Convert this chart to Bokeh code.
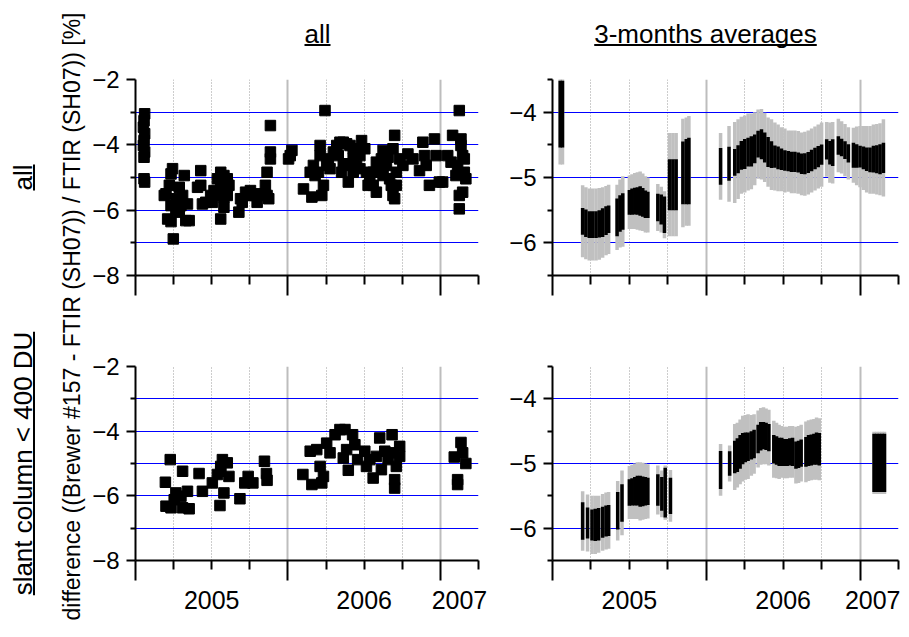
import numpy as np
from bokeh.plotting import figure
from bokeh.models import (Range1d, FixedTicker, LinearAxis, CustomJSTickFormatter,
                          Grid, ColumnDataSource)
from bokeh.layouts import row, column
from bokeh.embed import file_html
from bokeh.resources import INLINE
from bokeh.core.properties import value

FONT = "Liberation Sans"

# ---------------- axes / labels ----------------
X_RANGE = (2005.0, 2007.25)
YEAR_TICKS = [2005.0, 2006.0, 2007.0]
QUARTER_TICKS = [2005.25, 2005.5, 2005.75, 2006.25, 2006.5, 2006.75, 2007.25]
YEAR_LABEL_POS = [2005.5, 2006.5, 2007.125]
YEAR_LABELS = ["2005", "2006", "2007"]

ALL_YRANGE = (-8.0, -2.0)
ALL_YMAJOR = [-8, -6, -4, -2]
ALL_YMINOR = [-7, -5, -3]
ALL_HLINES = [-7, -6, -5, -4, -3]

AVG_YRANGE = (-6.5, -3.5)
AVG_YMAJOR = [-6, -5, -4]
AVG_YMINOR = [-6.5, -5.5, -4.5, -3.5]
AVG_HLINES = [-6, -5, -4]

COL_TITLES = ["all", "3-months averages"]
ROW_TITLES = ["all", "slant column < 400 DU"]
Y_TITLE = "difference ((Brewer #157 - FTIR (SH07)) / FTIR (SH07)) [%]"

# ---------------- top-left: all data ----------------
TL_YEAR = (
    [2005.060, 2005.056, 2005.052, 2005.060, 2005.056, 2005.052, 2005.060, 2005.056, 2005.056, 2005.060]
    + [2005.243, 2005.233, 2005.320, 2005.222, 2005.200, 2005.189, 2005.287, 2005.309, 2005.265, 2005.341,
       2005.298, 2005.233, 2005.211, 2005.233, 2005.352, 2005.330, 2005.248, 2005.287, 2005.265]
    + [2005.428, 2005.428, 2005.407, 2005.439, 2005.461, 2005.493, 2005.515, 2005.537, 2005.559, 2005.580,
       2005.602, 2005.613, 2005.559, 2005.537, 2005.580, 2005.602, 2005.559, 2005.580, 2005.504]
    + [2005.678, 2005.689, 2005.722, 2005.754, 2005.776, 2005.798, 2005.743, 2005.700, 2005.863, 2005.852,
       2005.863, 2005.874, 2005.885, 2005.885, 2005.885, 2005.798]
    + [2006.015, 2006.026, 2006.004]
    + [2006.102, 2006.157, 2006.146, 2006.167, 2006.178, 2006.200, 2006.211, 2006.222, 2006.233, 2006.243,
       2006.254, 2006.265, 2006.298, 2006.320, 2006.341, 2006.363, 2006.385, 2006.407, 2006.428, 2006.450,
       2006.483, 2006.504, 2006.472, 2006.428, 2006.407, 2006.363, 2006.352, 2006.396, 2006.428, 2006.472,
       2006.515, 2006.537, 2006.559, 2006.580, 2006.526, 2006.602, 2006.613, 2006.624, 2006.646, 2006.667,
       2006.678, 2006.689, 2006.700, 2006.700, 2006.711, 2006.733, 2006.754, 2006.689, 2006.211, 2006.276,
       2006.330, 2006.450, 2006.559, 2006.624, 2006.657, 2006.580, 2006.711]
    + [2006.787, 2006.820, 2006.863, 2006.885, 2006.896, 2006.907, 2006.928, 2006.961, 2006.972, 2006.993,
       2007.015, 2007.048, 2007.070, 2007.080, 2007.102, 2007.113, 2007.124, 2007.135, 2007.146, 2007.157,
       2007.124, 2007.124, 2007.146, 2007.167, 2007.157, 2007.135]
)
TL_DIFF = (
    [-3.05, -3.26, -3.46, -3.66, -3.87, -4.02, -4.22, -4.38, -5.04, -5.14]
    + [-4.73, -4.89, -4.94, -5.24, -5.50, -5.55, -5.30, -5.55, -5.65, -5.81,
       -5.86, -5.86, -6.27, -6.35, -6.32, -6.32, -6.88, -6.06, -6.01]
    + [-4.79, -5.24, -5.30, -5.81, -5.76, -5.55, -5.40, -5.04, -4.84, -4.94,
       -5.04, -5.24, -5.30, -5.55, -5.60, -5.55, -6.27, -5.91, -5.76]
    + [-6.06, -5.65, -5.45, -5.40, -5.55, -5.76, -5.55, -5.76, -4.84, -5.24,
       -5.55, -5.65, -3.41, -4.22, -4.43, -5.50]
    + [-4.33, -4.17, -4.43]
    + [-5.35, -5.60, -4.84, -4.63, -4.94, -4.84, -4.02, -5.55, -5.24, -2.95,
       -4.63, -4.43, -4.22, -4.02, -3.92, -3.92, -3.97, -4.02, -4.12, -4.22,
       -3.87, -4.12, -4.33, -4.43, -4.63, -4.58, -4.84, -5.14, -4.84, -4.73,
       -4.84, -5.04, -5.24, -5.45, -5.24, -4.73, -4.43, -4.17, -4.63, -5.04,
       -5.24, -5.55, -5.65, -3.71, -4.84, -4.43, -4.63, -4.12, -4.33, -4.73,
       -4.33, -4.63, -4.84, -4.94, -4.38, -4.53, -5.24]
    + [-4.28, -4.43, -4.79, -3.92, -4.33, -4.63, -5.24, -3.82, -4.33, -5.14,
       -5.14, -4.33, -4.53, -3.71, -4.94, -4.63, -2.95, -4.02, -4.33, -4.43,
       -5.55, -5.96, -5.45, -5.04, -4.84, -3.82]
)

# ---------------- bottom-left: slant column < 400 DU ----------------
BL_YEAR = (
    [2005.228, 2005.196, 2005.309, 2005.417, 2005.200, 2005.233, 2005.265, 2005.298, 2005.254, 2005.341,
     2005.352, 2005.309, 2005.439, 2005.504, 2005.537, 2005.559, 2005.570, 2005.602, 2005.613, 2005.580,
     2005.554, 2005.559, 2005.685, 2005.717, 2005.739, 2005.770, 2005.846, 2005.859, 2005.863]
    + [2006.098, 2006.157, 2006.146, 2006.189, 2006.211, 2006.222, 2006.233, 2006.254, 2006.276, 2006.309,
       2006.341, 2006.374, 2006.363, 2006.385, 2006.396, 2006.424, 2006.439, 2006.457, 2006.504, 2006.515,
       2006.537, 2006.559, 2006.580, 2006.602, 2006.613, 2006.635, 2006.657, 2006.683, 2006.689, 2006.700,
       2006.700, 2006.711, 2006.733, 2006.733]
    + [2007.091, 2007.135, 2007.146, 2007.167, 2007.113, 2007.113]
)
BL_DIFF = (
    [-4.88, -5.58, -5.24, -5.31, -6.32, -6.37, -5.91, -6.01, -6.12, -5.86,
     -6.40, -6.37, -5.86, -5.60, -5.34, -5.09, -4.88, -4.98, -5.40, -5.91,
     -6.30, -5.24, -6.09, -5.60, -5.40, -5.60, -4.93, -5.31, -5.52]
    + [-5.34, -5.65, -4.62, -4.57, -5.09, -5.60, -5.40, -4.37, -4.67, -4.11,
       -3.95, -3.95, -4.83, -4.57, -5.21, -4.11, -4.42, -4.88, -4.62, -5.09,
       -4.88, -5.45, -4.78, -4.21, -5.19, -4.62, -4.88, -4.11, -4.67, -5.50,
       -5.76, -5.09, -4.47, -4.78]
    + [-4.80, -4.35, -4.67, -5.00, -5.50, -5.65]
)

# ---------------- top-right: 3-month averages (all) ----------------
TR_YEAR = (
    [2005.050, 2005.065]
    + [2005.196, 2005.217, 2005.239, 2005.261, 2005.283, 2005.304, 2005.326, 2005.348, 2005.365]
    + [2005.420, 2005.439, 2005.457]
    + [2005.500, 2005.517, 2005.535, 2005.552, 2005.570, 2005.587, 2005.604, 2005.620]
    + [2005.685, 2005.707, 2005.728, 2005.761, 2005.783, 2005.804]
    + [2005.848, 2005.870, 2005.887]
    + [2006.093, 2006.148, 2006.185, 2006.207, 2006.228, 2006.250, 2006.272, 2006.293, 2006.315, 2006.337,
       2006.359, 2006.380, 2006.402, 2006.424, 2006.446, 2006.467, 2006.489, 2006.511, 2006.533, 2006.554,
       2006.576, 2006.598, 2006.620, 2006.641, 2006.663, 2006.685, 2006.707, 2006.728, 2006.750, 2006.783,
       2006.804, 2006.822, 2006.859, 2006.880, 2006.902, 2006.924, 2006.957, 2006.978, 2007.000, 2007.022,
       2007.043, 2007.065, 2007.087, 2007.109, 2007.130, 2007.152]
)
TR_MEAN = (
    [-4.03, -4.03]
    + [-5.67, -5.70, -5.72, -5.72, -5.72, -5.71, -5.69, -5.66, -5.64]
    + [-5.61, -5.55, -5.52]
    + [-5.38, -5.37, -5.36, -5.36, -5.36, -5.38, -5.41, -5.42]
    + [-5.46, -5.49, -5.57, -5.11, -5.11, -5.11]
    + [-4.93, -4.91, -4.90]
    + [-4.83, -4.79, -4.77, -4.72, -4.66, -4.64, -4.61, -4.60, -4.56, -4.49,
       -4.49, -4.54, -4.61, -4.65, -4.68, -4.70, -4.72, -4.74, -4.75, -4.76,
       -4.76, -4.77, -4.79, -4.79, -4.77, -4.74, -4.71, -4.68, -4.65, -4.57,
       -4.62, -4.62, -4.51, -4.54, -4.58, -4.63, -4.66, -4.67, -4.68, -4.70,
       -4.72, -4.73, -4.72, -4.72, -4.72, -4.70]
)
TR_INNER = (
    [0.51, 0.51]
    + [0.205, 0.21, 0.205, 0.205, 0.205, 0.21, 0.22, 0.22, 0.21]
    + [0.29, 0.28, 0.28]
    + [0.19, 0.20, 0.205, 0.21, 0.225, 0.22, 0.21, 0.20]
    + [0.21, 0.23, 0.28, 0.39, 0.39, 0.39]
    + [0.48, 0.50, 0.51]
    + [0.28, 0.26, 0.205, 0.215, 0.22, 0.23, 0.22, 0.23, 0.22, 0.205,
       0.23, 0.23, 0.23, 0.205, 0.17, 0.175, 0.165, 0.156, 0.154, 0.156,
       0.154, 0.154, 0.156, 0.16, 0.16, 0.164, 0.164, 0.164, 0.156, 0.154,
       0.18, 0.205, 0.14, 0.133, 0.136, 0.14, 0.19, 0.18, 0.167, 0.174,
       0.18, 0.19, 0.205, 0.215, 0.23, 0.23]
)
TR_OUTER = (
    [0.77, 0.77]
    + [0.55, 0.55, 0.55, 0.55, 0.55, 0.55, 0.54, 0.53, 0.53]
    + [0.50, 0.52, 0.54]
    + [0.41, 0.42, 0.43, 0.44, 0.45, 0.44, 0.43, 0.42]
    + [0.36, 0.35, 0.36, 0.79, 0.79, 0.79]
    + [0.83, 0.83, 0.84]
    + [0.51, 0.58, 0.62, 0.61, 0.59, 0.59, 0.59, 0.58, 0.56, 0.53,
       0.54, 0.53, 0.53, 0.54, 0.52, 0.51, 0.49, 0.49, 0.47, 0.48,
       0.48, 0.48, 0.48, 0.49, 0.49, 0.49, 0.49, 0.49, 0.49, 0.42,
       0.46, 0.47, 0.41, 0.40, 0.40, 0.40, 0.42, 0.45, 0.47, 0.49,
       0.51, 0.52, 0.53, 0.54, 0.55, 0.59]
)

# ---------------- bottom-right: 3-month averages (slant column < 400 DU) ----------------
BR_YEAR = (
    [2005.196, 2005.228, 2005.257, 2005.278, 2005.300, 2005.326, 2005.348, 2005.365]
    + [2005.424, 2005.452]
    + [2005.500, 2005.517, 2005.535, 2005.552, 2005.570, 2005.587, 2005.604, 2005.620]
    + [2005.685, 2005.711, 2005.733, 2005.767]
    + [2006.093, 2006.152, 2006.185, 2006.202, 2006.220, 2006.237, 2006.254, 2006.272, 2006.293, 2006.311,
       2006.337, 2006.354, 2006.372, 2006.389, 2006.407, 2006.439, 2006.457, 2006.474, 2006.491, 2006.509,
       2006.526, 2006.543, 2006.561, 2006.583, 2006.600, 2006.617, 2006.648, 2006.665, 2006.683, 2006.700,
       2006.717, 2006.735]
    + [2007.091, 2007.109, 2007.126, 2007.143, 2007.159]
)
BR_MEAN = (
    [-5.89, -5.92, -5.95, -5.95, -5.94, -5.91, -5.89, -5.88]
    + [-5.73, -5.61]
    + [-5.45, -5.44, -5.43, -5.42, -5.43, -5.43, -5.43, -5.43]
    + [-5.41, -5.47, -5.45, -5.50]
    + [-5.10, -5.00, -4.90, -4.87, -4.82, -4.77, -4.75, -4.74, -4.72, -4.70,
       -4.62, -4.58, -4.57, -4.58, -4.60, -4.78, -4.80, -4.82, -4.82, -4.83,
       -4.83, -4.82, -4.82, -4.87, -4.86, -4.84, -4.82, -4.80, -4.79, -4.78,
       -4.77, -4.78]
    + [-4.99, -4.99, -4.99, -4.99, -4.99]
)
BR_INNER = (
    [0.29, 0.24, 0.24, 0.25, 0.25, 0.24, 0.24, 0.24]
    + [0.29, 0.29]
    + [0.205, 0.21, 0.22, 0.23, 0.24, 0.23, 0.22, 0.21]
    + [0.245, 0.26, 0.385, 0.28]
    + [0.295, 0.19, 0.25, 0.26, 0.26, 0.24, 0.23, 0.22, 0.22, 0.22,
       0.22, 0.22, 0.21, 0.21, 0.21, 0.22, 0.22, 0.22, 0.22, 0.21,
       0.21, 0.21, 0.22, 0.21, 0.21, 0.21, 0.23, 0.24, 0.24, 0.24,
       0.25, 0.25]
    + [0.45, 0.45, 0.45, 0.45, 0.45]
)
BR_OUTER = (
    [0.46, 0.44, 0.45, 0.45, 0.44, 0.44, 0.44, 0.44]
    + [0.46, 0.50]
    + [0.41, 0.42, 0.43, 0.44, 0.45, 0.44, 0.43, 0.42]
    + [0.38, 0.36, 0.42, 0.40]
    + [0.40, 0.28, 0.51, 0.50, 0.50, 0.51, 0.50, 0.50, 0.47, 0.46,
       0.44, 0.44, 0.44, 0.43, 0.43, 0.44, 0.43, 0.42, 0.40, 0.40,
       0.40, 0.40, 0.40, 0.44, 0.44, 0.44, 0.47, 0.47, 0.47, 0.47,
       0.48, 0.48]
    + [0.48, 0.48, 0.48, 0.48, 0.48]
)

assert len(TL_YEAR) == len(TL_DIFF)
assert len(BL_YEAR) == len(BL_DIFF)
assert len(TR_YEAR) == len(TR_MEAN) == len(TR_INNER) == len(TR_OUTER)
assert len(BR_YEAR) == len(BR_MEAN) == len(BR_INNER) == len(BR_OUTER)

# ---------------- styling ----------------
BAR_GRAY = "#c0c0c0"
BLUE = "#0000ff"
TICK_FONT_Y = "24px"
TICK_FONT_X = "25px"

BLANK = CustomJSTickFormatter(code="return '';")


def make_panel(width, height, mb_left, mb_right, mb_top, mb_bottom,
               yrange, ymajor, yminor, hlines, xlabels):
    p = figure(width=width, height=height,
               x_range=Range1d(*X_RANGE), y_range=Range1d(*yrange),
               x_axis_type=None, y_axis_type=None,
               output_backend="svg", toolbar_location=None,
               min_border_left=mb_left, min_border_right=mb_right,
               min_border_top=mb_top, min_border_bottom=mb_bottom)
    p.outline_line_color = None
    p.background_fill_color = "white"
    p.border_fill_color = "white"

    # vertical guides: years solid grey, quarters dotted
    p.add_layout(Grid(dimension=0,
                      ticker=FixedTicker(ticks=YEAR_TICKS[1:], minor_ticks=QUARTER_TICKS),
                      grid_line_color="#bdbdbd", grid_line_width=2,
                      minor_grid_line_color="#9a9a9a", minor_grid_line_width=1,
                      minor_grid_line_dash="1 2"))
    # horizontal blue reference lines
    p.add_layout(Grid(dimension=1, ticker=FixedTicker(ticks=hlines),
                      grid_line_color=BLUE, grid_line_width=1.2))

    yaxis = LinearAxis(ticker=FixedTicker(ticks=ymajor, minor_ticks=yminor),
                       axis_line_width=2, major_tick_line_width=2, minor_tick_line_width=2,
                       major_tick_out=9, major_tick_in=0, minor_tick_out=5, minor_tick_in=0,
                       major_label_text_font=FONT, major_label_text_font_size=TICK_FONT_Y,
                       major_label_text_color="black", major_label_standoff=7)
    p.add_layout(yaxis, "left")

    xaxis = LinearAxis(ticker=FixedTicker(ticks=YEAR_TICKS, minor_ticks=QUARTER_TICKS),
                       formatter=BLANK,
                       axis_line_width=2, major_tick_line_width=2, minor_tick_line_width=2,
                       major_tick_out=20, major_tick_in=0, minor_tick_out=9, minor_tick_in=0,
                       major_label_text_font_size="1px", major_label_standoff=0)
    p.add_layout(xaxis, "below")

    if xlabels:
        lab_axis = LinearAxis(
            ticker=FixedTicker(ticks=YEAR_LABEL_POS, minor_ticks=[]),
            formatter=CustomJSTickFormatter(
                args=dict(pos=YEAR_LABEL_POS, lab=YEAR_LABELS),
                code="const i = pos.findIndex(v => Math.abs(v - tick) < 1e-6); return i >= 0 ? lab[i] : '';"),
            axis_line_color=None, major_tick_line_color=None, minor_tick_line_color=None,
            major_tick_out=0, major_tick_in=0, minor_tick_out=0, minor_tick_in=0,
            major_label_text_font=FONT, major_label_text_font_size=TICK_FONT_X,
            major_label_text_color="black", major_label_standoff=10)
        p.add_layout(lab_axis, "below")
    return p


def scatter_panel(p, years, diffs):
    src = ColumnDataSource(dict(x=years, y=diffs))
    p.scatter("x", "y", source=src, marker="square", size=10.5,
              fill_color="black", line_color="black")


def bars_panel(p, years, mean, inner, outer):
    m = np.array(mean)
    src = ColumnDataSource(dict(x=years,
                                olo=m - np.array(outer), ohi=m + np.array(outer),
                                ilo=m - np.array(inner), ihi=m + np.array(inner)))
    p.segment(x0="x", y0="olo", x1="x", y1="ohi", source=src,
              line_color=BAR_GRAY, line_width=3.5)
    p.segment(x0="x", y0="ilo", x1="x", y1="ihi", source=src,
              line_color="black", line_width=3.5)


def text_canvas(width, height):
    f = figure(width=width, height=height,
               x_range=Range1d(0, width), y_range=Range1d(0, height),
               x_axis_type=None, y_axis_type=None, min_border=0,
               output_backend="svg", toolbar_location=None)
    f.outline_line_color = None
    f.grid.visible = False
    return f


def em_width(s):
    w = {'a': .556, 'l': .222, 's': .5, 'n': .556, 't': .278, ' ': .278, 'c': .5, 'o': .556,
         'u': .556, 'm': .833, '<': .584, '4': .556, '0': .556, 'D': .722, 'U': .722,
         '3': .556, '-': .333, 'h': .556, 'v': .5, 'e': .556, 'r': .333, 'g': .556}
    return sum(w.get(ch, .556) for ch in s)


# ---------------- panels ----------------
tl = make_panel(399, 260, 44, 10, 20, 44, ALL_YRANGE, ALL_YMAJOR, ALL_YMINOR, ALL_HLINES, False)
tr = make_panel(412, 260, 64, 2, 20, 44, AVG_YRANGE, AVG_YMAJOR, AVG_YMINOR, AVG_HLINES, False)
bl = make_panel(399, 309, 44, 10, 47, 68, ALL_YRANGE, ALL_YMAJOR, ALL_YMINOR, ALL_HLINES, True)
br = make_panel(412, 309, 64, 2, 47, 68, AVG_YRANGE, AVG_YMAJOR, AVG_YMINOR, AVG_HLINES, True)

scatter_panel(tl, TL_YEAR, TL_DIFF)
scatter_panel(bl, BL_YEAR, BL_DIFF)
bars_panel(tr, TR_YEAR, TR_MEAN, TR_INNER, TR_OUTER)
bars_panel(br, BR_YEAR, BR_MEAN, BR_INNER, BR_OUTER)

# ---------------- header with column titles ----------------
HEADER_H = 59
header = text_canvas(811, HEADER_H)
hx = [228, 616]
hsize = 26
header.text(x=hx, y=[26, 26], text=COL_TITLES, text_align="center",
            text_baseline="middle", text_font=value(FONT), text_font_size=f"{hsize}px",
            text_color="black")
hw = [em_width(t) * hsize / 2 for t in COL_TITLES]
header.segment(x0=[x - w for x, w in zip(hx, hw)], y0=[14.5, 14.5],
               x1=[x + w for x, w in zip(hx, hw)], y1=[14.5, 14.5],
               line_color="black", line_width=2)

# ---------------- left strip with y title and row titles ----------------
LEFT_W = 89
TOTAL_H = HEADER_H + 260 + 309
left = text_canvas(LEFT_W, TOTAL_H)
left.text(x=[71], y=[312], text=[Y_TITLE], angle=np.pi / 2, text_align="center",
          text_baseline="middle", text_font=value(FONT), text_font_size="23px",
          text_color="black")
ry = [451, 165]
rx = [22, 22]
rsize = 26
left.text(x=rx, y=ry, text=ROW_TITLES, angle=np.pi / 2, text_align="center",
          text_baseline="middle", text_font=value(FONT), text_font_size=f"{rsize}px",
          text_color="black")
rw = [em_width(t) * rsize / 2 for t in ROW_TITLES]
left.segment(x0=[x + 11.5 for x in rx], y0=[y - w for y, w in zip(ry, rw)],
             x1=[x + 11.5 for x in rx], y1=[y + w for y, w in zip(ry, rw)],
             line_color="black", line_width=2)

layout = row(left, column(header, row(tl, tr), row(bl, br)))

open("out.html", "w").write(file_html(layout, INLINE))
